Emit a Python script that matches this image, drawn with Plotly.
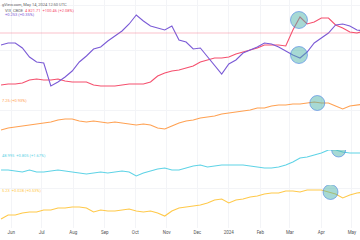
import pandas as pd
import plotly.graph_objects as go
from plotly.subplots import make_subplots

# ---- data (weekly samples; relative levels per pane) ----
dates = pd.date_range("2023-05-22", periods=52, freq="7D")

purple = [50,52,52,47,38,33,32,9,13,18,24,33,39,46,48,54,59,64,71,80,74,69,67,65,69,55,
          53,46,47,38,30,21,31,35,42,45,48,52,51,48,44,40,37,43,52,57,62,70,71,69,65,64]
red = [10,11,11,12,15,16,15,15,16,14,13,13,13,10,9,9,9,10,11,11,11,13,19,22,24,25,
       27,29,33,35,37,37,38,41,43,45,47,50,50,50,49,65,78,71,73,77,77,70,67,63,62,64]
orange = [20,22,23,24,25,26,27,28,30,31,31,29,28,29,28,27,28,27,26,25,26,25,22,21,24,27,
          29,30,32,33,34,36,37,38,39,40,42,42,44,45,45,46,46,47,48,47,47,44,41,44,45,46]
cyan = [15,15,14,13,15,13,13,14,15,14,13,12,11,12,13,12,13,14,13,9,12,14,16,17,15,15,
        17,19,20,18,19,20,20,20,20,19,18,17,17,18,20,23,27,28,30,32,35,35,33,32,32,32]
yellow = [9,13,13,15,16,16,18,18,20,20,21,21,20,16,18,17,17,18,19,17,16,17,15,12,17,20,
          21,22,23,25,28,29,25,28,29,31,32,34,35,35,37,37,36,38,38,38,36,34,30,33,35,36]
red_level = 62

# highlighted points (date, value, pane)
hl_dates = ["2024-03-10", "2024-03-10", "2024-03-28", "2024-04-18", "2024-04-10"]
hl_values = [75, 40, 47, 35, 36]
hl_rows = [1, 1, 2, 3, 4]
hl_sizes = [17, 17, 15, 14, 15]

tick_vals = ["2023-06-01","2023-07-01","2023-08-01","2023-09-01","2023-10-01","2023-11-01",
             "2023-12-01","2024-01-01","2024-02-01","2024-03-01","2024-04-01","2024-05-01"]
tick_text = ["Jun","Jul","Aug","Sep","Oct","Nov","Dec","2024","Feb","Mar","Apr","May"]

pane_heights = [95, 55, 35, 43]

C_PURPLE = "#7b5bd6"
C_RED = "#f5506e"
C_ORANGE = "#ffa152"
C_CYAN = "#5fd3e6"
C_YELLOW = "#ffc94a"

fig = make_subplots(rows=4, cols=1, shared_xaxes=True, vertical_spacing=0,
                    row_heights=pane_heights)

fig.add_trace(go.Scatter(x=dates, y=red, mode="lines", line=dict(color=C_RED, width=1.1)), row=1, col=1)
fig.add_trace(go.Scatter(x=dates, y=purple, mode="lines", line=dict(color=C_PURPLE, width=1.1)), row=1, col=1)
fig.add_trace(go.Scatter(x=dates, y=orange, mode="lines", line=dict(color=C_ORANGE, width=1.1)), row=2, col=1)
fig.add_trace(go.Scatter(x=dates, y=cyan, mode="lines", line=dict(color=C_CYAN, width=1.1)), row=3, col=1)
fig.add_trace(go.Scatter(x=dates, y=yellow, mode="lines", line=dict(color=C_YELLOW, width=1.1)), row=4, col=1)

fig.add_hline(y=red_level, line=dict(color="rgba(245,80,110,0.45)", width=0.8), row=1, col=1)

for d, v, r, s in zip(hl_dates, hl_values, hl_rows, hl_sizes):
    fig.add_trace(go.Scatter(x=[d], y=[v], mode="markers",
                             marker=dict(size=s, color="rgba(80,180,170,0.5)",
                                         line=dict(color="rgba(60,120,230,0.55)", width=1))),
                  row=r, col=1)

for i, h in enumerate(pane_heights, start=1):
    fig.update_yaxes(range=[0, h], showticklabels=False, showgrid=True, gridcolor="#f3f4f7",
                     gridwidth=0.6, dtick=45 if i == 1 else 40, zeroline=False, row=i, col=1)

fig.update_xaxes(range=["2023-05-21", "2024-05-09"], tickvals=tick_vals, ticktext=tick_text,
                 showgrid=True, gridcolor="#f3f4f7", gridwidth=0.6, zeroline=False,
                 showline=False, ticks="")
fig.update_xaxes(tickfont=dict(size=4.5, color="#555", family="Roboto"), row=4, col=1)

H = 228.0
def yp(px):
    return 1 - px / H

ann = [
    (0, 4, "gView.com, May 14, 2024 12:50 UTC", "#666"),
    (3, 10, "VIX, CBOE", "#666"),
    (23, 10, "4 821.71  +100.46 (+2.08%)", C_RED),
    (3, 15, "+0.253 (+0.35%)", C_PURPLE),
    (0, 100, "7.25 (+0.93%)", C_ORANGE),
    (0, 155, "48.995  +0.805 (+1.67%)", C_CYAN),
    (0, 190, "5.23  +0.028 (+0.53%)", C_YELLOW),
]
for x, y, t, c in ann:
    fig.add_annotation(x=x / 360.0, y=yp(y), xref="paper", yref="paper", text=t,
                       showarrow=False, xanchor="left", yanchor="middle",
                       font=dict(size=4, color=c, family="Roboto"))

fig.update_layout(width=360, height=240, margin=dict(l=0, r=0, t=0, b=12),
                  paper_bgcolor="white", plot_bgcolor="white", showlegend=False)

fig.write_html("out.html")
